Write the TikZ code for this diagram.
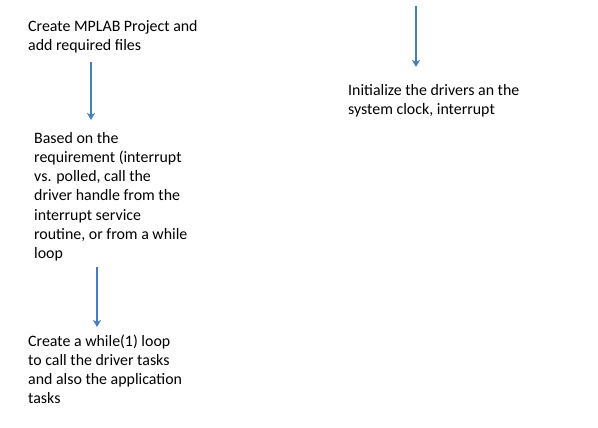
\documentclass[tikz,border=0pt]{standalone}
\usepackage{fontspec}
\setmainfont{Carlito}
\usetikzlibrary{arrows.meta}
\definecolor{arrowblue}{HTML}{4A7EBB}
\tikzset{
  steptext/.style={anchor=north west, inner sep=0pt, align=left,
    font=\fontsize{15.9}{19.2}\selectfont, text=black},
  flowarrow/.style={draw=arrowblue, line width=1.6pt,
    -{Stealth[length=7pt,width=8pt,inset=2pt]}}
}
% first-line strut height = 0.7*19.2 = 13.44pt; node top = baseline - 13.44
\begin{document}
\begin{tikzpicture}[x=1pt,y=-1pt]
\useasboundingbox (0,0) rectangle (598,428);
\node[steptext] (create) at (28,17.6) {\strut Create MPLAB Project and\\add required files};
\node[steptext] (based) at (34,129.6) {\strut Based on the\\requirement (interrupt\\vs. polled, call the\\driver handle from the\\interrupt service\\routine, or from a while\\loop};
\node[steptext] (loop) at (28,332.6) {\strut Create a while(1) loop\\to call the driver tasks\\and also the application\\tasks};
\node[steptext] (init) at (348,81.6) {\strut Initialize the drivers an the\\system clock, interrupt};
\coordinate (a1s) at (91,62);
\coordinate (a1e) at (91,120);
\coordinate (a2s) at (97,267);
\coordinate (a2e) at (97,327);
\coordinate (a3s) at (416,6);
\coordinate (a3e) at (416,67);
\draw[flowarrow] (a1s) -- (a1e);
\draw[flowarrow] (a2s) -- (a2e);
\draw[flowarrow] (a3s) -- (a3e);
\end{tikzpicture}
\end{document}
